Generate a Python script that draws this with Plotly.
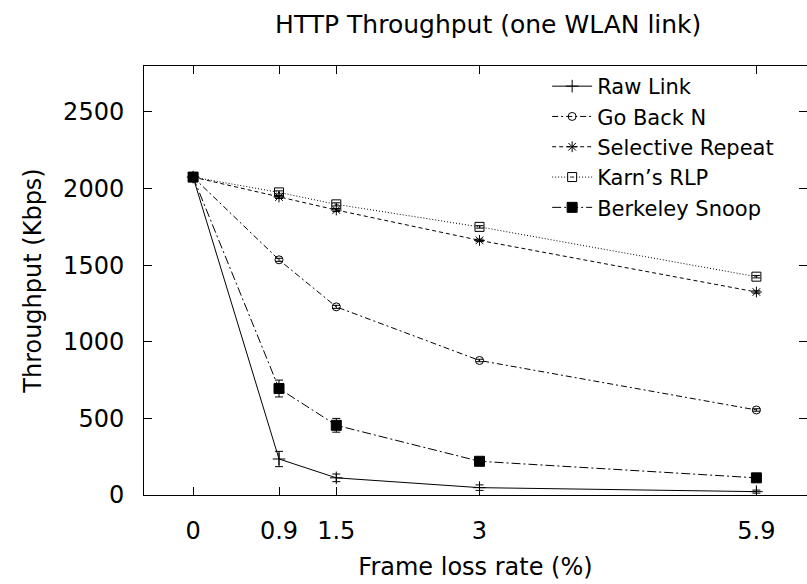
import plotly.graph_objects as go

loss_rate = [0, 0.9, 1.5, 3, 5.9]
tick_labels = ["0", "0.9", "1.5", "3", "5.9"]

raw_link = [2075, 235, 112, 48, 22]
raw_link_err = [8, 50, 25, 18, 10]
go_back_n = [2075, 1535, 1228, 878, 555]
go_back_n_err = [8, 10, 10, 8, 8]
selective_repeat = [2075, 1945, 1860, 1662, 1325]
selective_repeat_err = [8, 10, 10, 8, 8]
karns_rlp = [2075, 1975, 1897, 1750, 1425]
karns_rlp_err = [8, 10, 10, 8, 8]
berkeley_snoop = [2075, 695, 455, 220, 112]
berkeley_snoop_err = [8, 55, 45, 20, 10]

FONT = "DejaVu Sans"

series = [
    ("Raw Link", raw_link, raw_link_err, "solid", "cross-thin-open", 9),
    ("Go Back N", go_back_n, go_back_n_err, "6px,3px,2px,3px", "circle-open", 8),
    ("Selective Repeat", selective_repeat, selective_repeat_err, "4px,3px", "asterisk-open", 9),
    ("Karn\u2019s RLP", karns_rlp, karns_rlp_err, "1px,2px", "square-open-dot", 9),
    ("Berkeley Snoop", berkeley_snoop, berkeley_snoop_err, "9px,3px,2px,3px", "square", 10),
]

fig = go.Figure()
for name, ys, err, dash, sym, size in series:
    fig.add_trace(go.Scatter(
        x=loss_rate, y=ys, name=name, mode="lines+markers",
        line=dict(color="black", width=1, dash=dash),
        marker=dict(symbol=sym, size=size, color="black",
                    line=dict(color="black", width=1)),
        error_y=dict(type="data", array=err, visible=True,
                     color="black", thickness=1, width=4),
    ))

fig.update_layout(
    width=807, height=584,
    margin=dict(l=144, r=0, t=66, b=89),
    paper_bgcolor="white", plot_bgcolor="white",
    font=dict(family=FONT, size=24, color="black"),
    title=dict(text="HTTP Throughput (one WLAN link)", x=0.605, xanchor="center",
               y=1 - 24 / 584, yanchor="middle",
               font=dict(family=FONT, size=25, color="black")),
    showlegend=True,
    legend=dict(x=0.958, xanchor="right", y=1.0, yanchor="top",
                bgcolor="rgba(0,0,0,0)", font=dict(family=FONT, size=21),
                tracegroupgap=0, itemwidth=40),
    xaxis=dict(range=[-0.514, 6.43], tickmode="array", tickvals=loss_rate,
               ticktext=tick_labels, ticks="inside", ticklen=8, tickwidth=1,
               tickcolor="black", showline=True, linecolor="black", linewidth=1,
               mirror="ticks", showgrid=False, zeroline=False,
               ticklabelstandoff=14,
               title=dict(text="Frame loss rate (%)", standoff=14,
                          font=dict(family=FONT, size=24))),
    yaxis=dict(range=[0, 2800], tickvals=[0, 500, 1000, 1500, 2000, 2500],
               ticks="inside", ticklen=8, tickwidth=1, tickcolor="black",
               showline=True, linecolor="black", linewidth=1, mirror="ticks",
               showgrid=False, zeroline=False, ticklabelstandoff=14,
               title=dict(text="Throughput (Kbps)", standoff=14,
                          font=dict(family=FONT, size=24))),
)

fig.write_html("out.html")
